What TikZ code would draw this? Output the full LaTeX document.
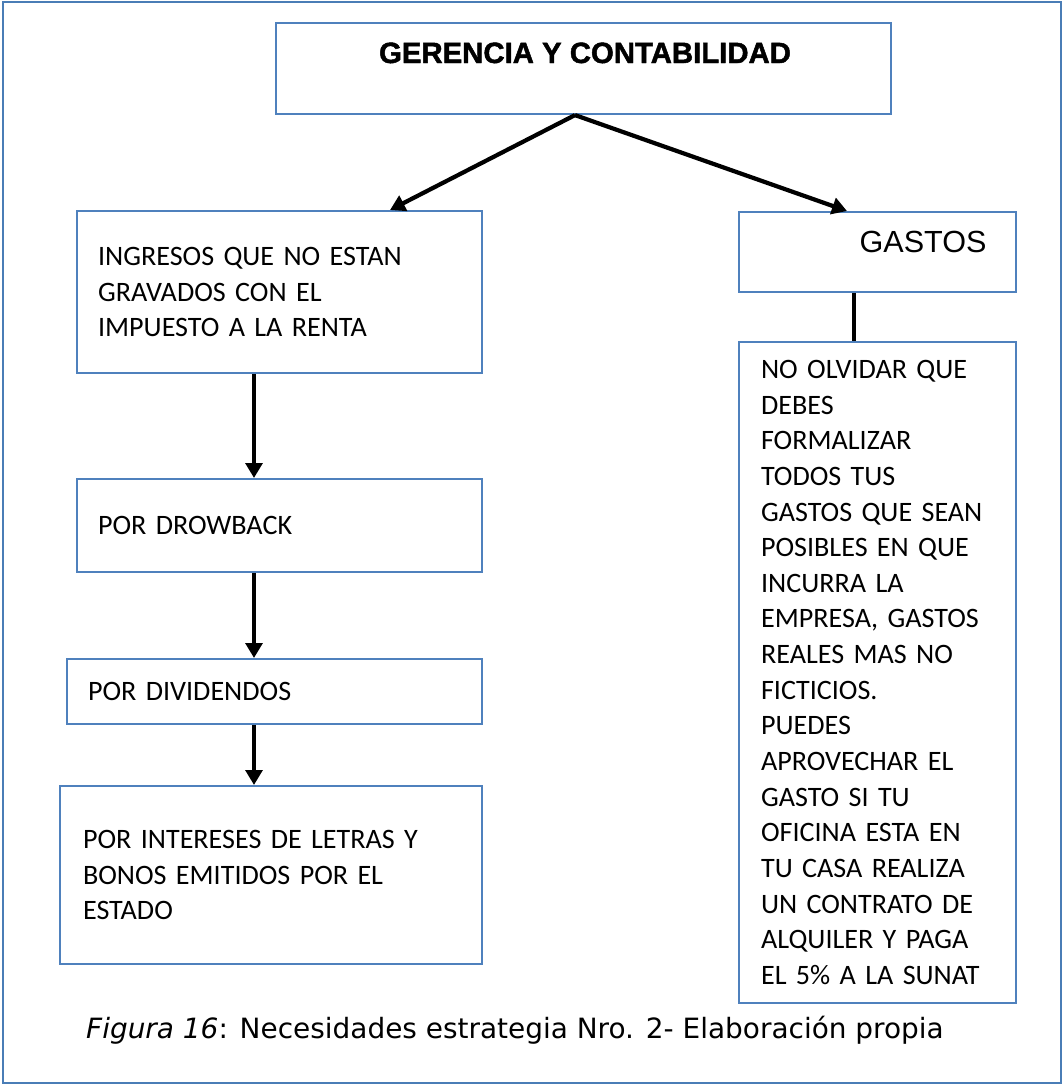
\documentclass[tikz,border=0pt]{standalone}
\usepackage{fontspec}
\setmainfont{Carlito}
\newfontfamily\arialfont{Liberation Sans}[BoldFeatures={FakeBold=1.6}]
\newfontfamily\capfont{DejaVu Sans}
\usepackage[HTML]{xcolor}
\usepackage{tikz}
\usetikzlibrary{positioning, arrows, arrows.meta}

\definecolor{boxblue}{HTML}{4F81BD}
\definecolor{frameblue}{HTML}{4A7DB6}

\begin{document}
\begin{tikzpicture}[x=0.02cm, y=-0.02cm,
  box/.style={draw=boxblue, line width=1.2pt, rectangle, anchor=north west,
    inner xsep=0.42cm, inner ysep=0pt, align=left,
    font=\fontsize{16pt}{20.3pt}\selectfont},
  arr/.style={draw=black, line width=2.4pt, -{Triangle[length=8.5pt,width=9.5pt]}},
  link/.style={draw=black, line width=2.4pt}]
\useasboundingbox (0,0) rectangle (1063,1085);

% Outer frame
\draw[frameblue, line width=1.3pt] (3,2) rectangle (1061,1083);

% Top box
\node[box, minimum width=12.3cm, minimum height=1.82cm] (gerencia) at (275,22) {};
\node[anchor=base, font=\arialfont\bfseries\fontsize{16.7pt}{20pt}\selectfont] (gerenciatxt) at (585,63) {GERENCIA Y CONTABILIDAD};

% Left column
\node[box, text width=7.26cm, minimum height=3.24cm] (ingresos) at (76,210)
  {INGRESOS QUE NO ESTAN\\GRAVADOS CON EL\\IMPUESTO A LA RENTA};
\node[box, text width=7.26cm, minimum height=1.86cm] (drowback) at (76,478)
  {POR DROWBACK};
\node[box, text width=7.46cm, minimum height=1.30cm] (dividendos) at (66,658)
  {POR DIVIDENDOS};
\node[box, inner xsep=0.46cm, text width=7.52cm, minimum height=3.56cm] (intereses) at (59,785)
  {POR INTERESES DE LETRAS Y\\BONOS EMITIDOS POR EL\\ESTADO};

% Right column
\node[box, minimum width=5.54cm, minimum height=1.60cm] (gastos) at (738,211) {};
\node[anchor=base, font=\arialfont\fontsize{17.4pt}{20pt}\selectfont] (gastostxt) at (923,252) {GASTOS};
\node[box, inner xsep=0.44cm, text width=4.66cm, minimum height=13.22cm] (nota) at (738,341)
  {NO OLVIDAR QUE\\DEBES\\FORMALIZAR\\TODOS TUS\\GASTOS QUE SEAN\\POSIBLES EN QUE\\INCURRA LA\\EMPRESA, GASTOS\\REALES MAS NO\\FICTICIOS.\\PUEDES\\APROVECHAR EL\\GASTO SI TU\\OFICINA ESTA EN\\TU CASA REALIZA\\UN CONTRATO DE\\ALQUILER Y PAGA\\EL 5\% A LA SUNAT};

% Connectors
\coordinate (topmid) at (575,0);
\coordinate (lefttip) at (390,0);
\coordinate (righttip) at (847,0);
\coordinate (leftcol) at (254,0);
\coordinate (rightcol) at (854,0);
\draw[arr] (gerencia.south -| topmid) -- (ingresos.north -| lefttip);
\draw[arr] (gerencia.south -| topmid) -- (gastos.north -| righttip);
\draw[arr] (ingresos.south -| leftcol) -- (drowback.north -| leftcol);
\draw[arr] (drowback.south -| leftcol) -- (dividendos.north -| leftcol);
\draw[arr] (dividendos.south -| leftcol) -- (intereses.north -| leftcol);
\draw[link] (gastos.south -| rightcol) -- (nota.north -| rightcol);

% Caption
\node[anchor=base west, font=\capfont\fontsize{15.9pt}{19pt}\selectfont] (caption) at (80,1038)
  {\textit{Figura 16}: Necesidades estrategia Nro. 2- Elaboración propia};
\end{tikzpicture}
\end{document}
